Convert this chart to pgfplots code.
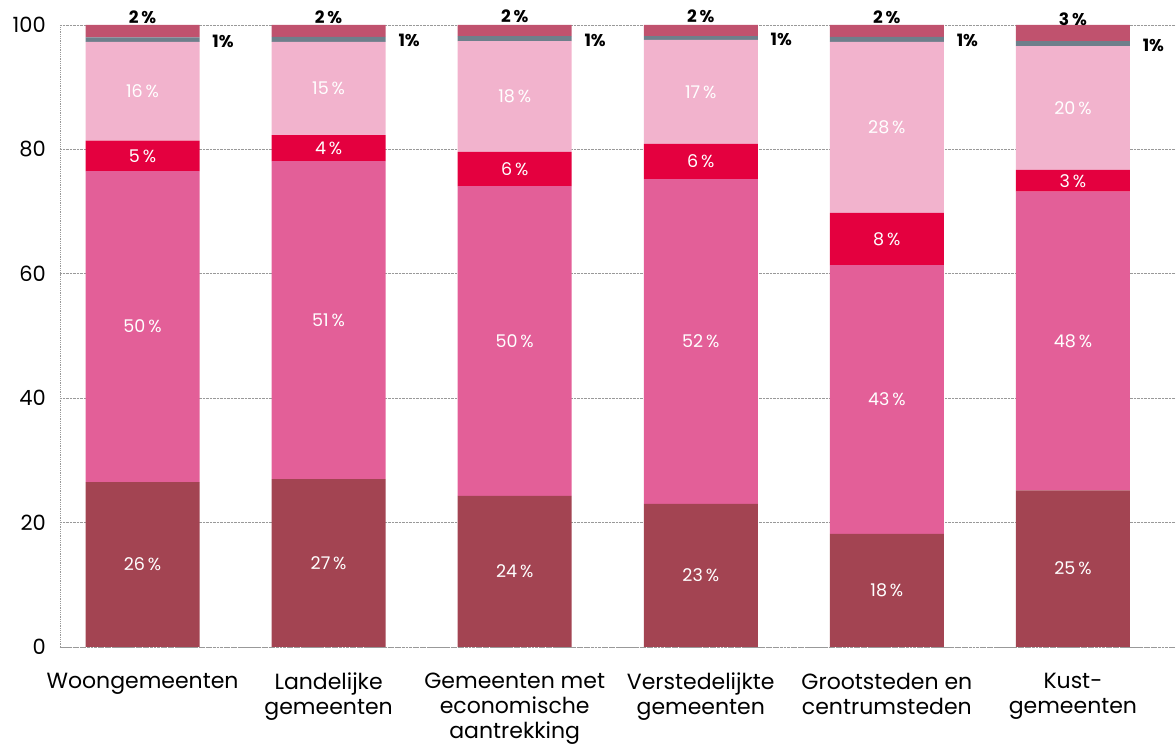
\documentclass[border=0pt]{standalone}
\usepackage{pgfplots}
\pgfplotsset{compat=1.18}
\usepackage{pgfplotstable}
\usepackage{fontspec}
\setmainfont{Poppins}
\definecolor{cA}{HTML}{A34452}
\definecolor{cB}{HTML}{E35F98}
\definecolor{cC}{HTML}{E4003F}
\definecolor{cD}{HTML}{F2B3CD}
\definecolor{cE}{HTML}{6E7F8B}
\definecolor{cF}{HTML}{C0526E}
\pgfplotstableread{
x a b c d e f la lb lc ld le lf
0 26.5 50.0 4.9 15.9 0.7 2.0 26 50 5 16 1 2
1 27.0 51.1 4.2 15.0 0.8 1.9 27 51 4 15 1 2
2 24.3 49.8 5.5 17.8 0.8 1.8 24 50 6 18 1 2
3 23.0 52.2 5.7 16.7 0.6 1.8 23 52 6 17 1 2
4 18.2 43.2 8.4 27.5 0.8 1.9 18 43 8 28 1 2
5 25.2 48.0 3.5 19.9 0.8 2.6 25 48 3 20 1 3
}\data
\pgfplotsset{
  inlbl/.style={
    nodes near coords={\pgfplotspointmeta\,\%},
    every node near coord/.append style={anchor=center, inner sep=0pt,
      text=white, font=\fontsize{17.5}{19}\selectfont}
  }
}
\begin{document}
\begin{tikzpicture}
\useasboundingbox (0,0) rectangle (1176pt,749pt);
\begin{axis}[
  at={(60pt,102pt)}, anchor=south west,
  scale only axis, width=1116pt, height=622pt,
  ybar stacked, bar width=114pt,
  xmin=-0.4435, xmax=5.554, ymin=0, ymax=100,
  xtick=data,
  xticklabels={Woongemeenten,{Landelijke\\gemeenten},{Gemeenten met\\economische\\aantrekking},{Verstedelijkte\\gemeenten},{Grootsteden en\\centrumsteden},{Kust-\\gemeenten}},
  xticklabel style={align=center, font=\fontsize{22}{25}\selectfont, inner sep=0pt, yshift=-26pt},
  ytick={0,20,40,60,80,100},
  yticklabel style={font=\fontsize{21}{24}\selectfont, inner sep=0pt, xshift=-14pt},
  /pgf/number format/assume math mode=true,
  major tick length=0pt,
  axis lines=left,
  axis line style={-, densely dotted, gray!80, line width=0.8pt},
  ymajorgrids,
  grid style={densely dotted, gray!80, line width=0.8pt},
  axis on top=false,
  point meta=explicit symbolic,
  every axis plot/.append style={draw=none},
]
\addplot[fill=cA, inlbl] table[x=x, y=a, meta=la] {\data};
\addplot[fill=cB, inlbl] table[x=x, y=b, meta=lb] {\data};
\addplot[fill=cC, inlbl] table[x=x, y=c, meta=lc] {\data};
\addplot[fill=cD, inlbl] table[x=x, y=d, meta=ld] {\data};
\addplot[fill=cE, nodes near coords={\pgfplotspointmeta\%},
  every node near coord/.append style={anchor=center, inner sep=0pt, text=black,
    font=\bfseries\fontsize{17}{18}\selectfont, xshift=80.5pt, yshift=-1.5pt}]
  table[x=x, y=e, meta=le] {\data};
\addplot[fill=cF, nodes near coords={\pgfplotspointmeta\,\%},
  every node near coord/.append style={anchor=south, inner sep=0pt, text=black,
    font=\bfseries\fontsize{17}{18}\selectfont, yshift=7.5pt}]
  table[x=x, y=f, meta=lf] {\data};
\end{axis}
\end{tikzpicture}
\end{document}
